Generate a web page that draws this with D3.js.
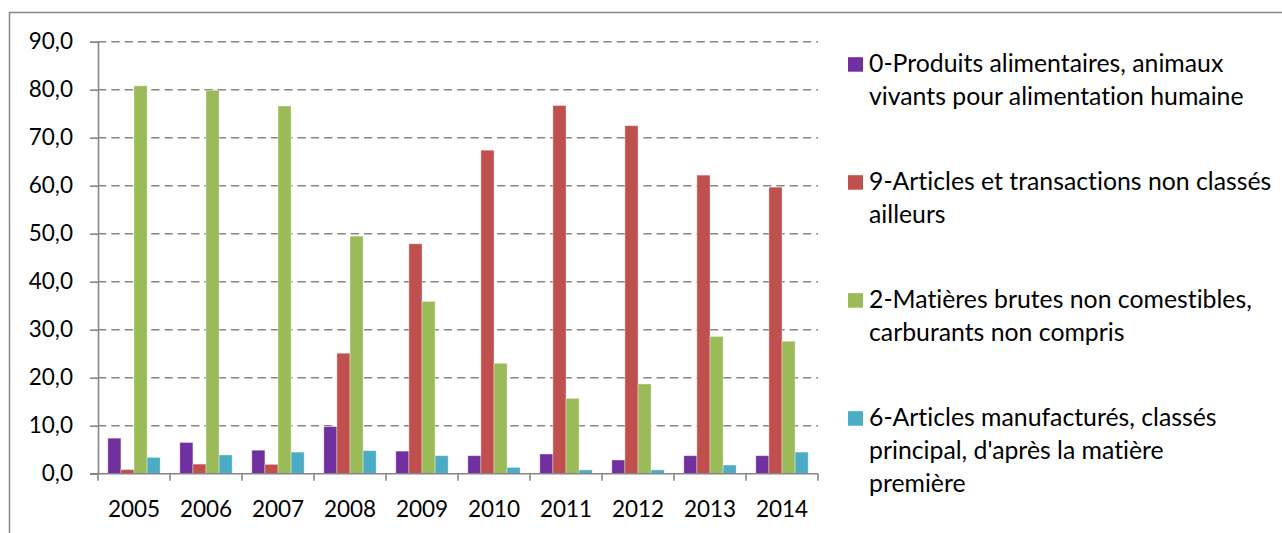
<!DOCTYPE html>
<html>
<head>
<meta charset="utf-8">
<script src="https://cdn.jsdelivr.net/npm/d3@7"></script>
<style>
  html, body { margin: 0; padding: 0; background: #fff; }
  svg { display: block; }
  text { font-family: Lato, "Open Sans", sans-serif; fill: #000; font-variant-ligatures: none; }
</style>
</head>
<body>
<svg id="chart" width="1282" height="533"></svg>
<script>
const years = ["2005","2006","2007","2008","2009","2010","2011","2012","2013","2014"];
const seriesNames = [
  "0-Produits alimentaires, animaux vivants pour alimentation humaine",
  "9-Articles et transactions non classés ailleurs",
  "2-Matières brutes non comestibles, carburants non compris",
  "6-Articles manufacturés, classés principal, d'après la matière première"
];
const legendLines = [
  ["0-Produits alimentaires, animaux", "vivants pour alimentation humaine"],
  ["9-Articles et transactions non classés", "ailleurs"],
  ["2-Matières brutes non comestibles,", "carburants non compris"],
  ["6-Articles manufacturés, classés", "principal, d'après la matière", "première"]
];
const produitsAlimentaires = [7.4, 6.5, 4.9, 9.8, 4.7, 3.75, 4.1, 2.85, 3.75, 3.75];
const articlesNonClasses   = [0.85, 2.0, 1.95, 25.1, 47.9, 67.4, 76.7, 72.5, 62.2, 59.7];
const matieresBrutes       = [80.8, 79.9, 76.6, 49.5, 35.9, 23.0, 15.7, 18.7, 28.6, 27.6];
const articlesManufactures = [3.4, 3.9, 4.5, 4.8, 3.75, 1.3, 0.8, 0.8, 1.8, 4.5];
const yTicks = [0, 10, 20, 30, 40, 50, 60, 70, 80, 90];
const colors = ["#7030A0", "#C0504D", "#9BBB59", "#4BACC6"];

const seriesValues = [produitsAlimentaires, articlesNonClasses, matieresBrutes, articlesManufactures];

const svg = d3.select("#chart");
const axisColor = "#868686";

// outer chart border
svg.append("rect")
  .attr("x", 9.5).attr("y", 12.5)
  .attr("width", 1300).attr("height", 600)
  .attr("fill", "none").attr("stroke", axisColor).attr("stroke-width", 1.5);

const plot = { left: 98, right: 818, top: 41.7, bottom: 473.7 };

const x0 = d3.scaleBand().domain(years).range([plot.left, plot.right]).padding(0);
const x1 = d3.scaleBand().domain(d3.range(seriesValues.length))
  .range([0, x0.bandwidth()]).paddingInner(0).paddingOuter(0.75);
const y = d3.scaleLinear().domain([0, 90]).range([plot.bottom, plot.top]);

// gridlines
svg.append("g").selectAll("line")
  .data(yTicks.filter(d => d > 0))
  .join("line")
  .attr("x1", plot.left).attr("x2", plot.right)
  .attr("y1", d => y(d)).attr("y2", d => y(d))
  .attr("stroke", axisColor).attr("stroke-width", 1.6)
  .attr("stroke-dasharray", "8.3,5");

// bars
const groups = svg.append("g").selectAll("g")
  .data(years)
  .join("g")
  .attr("transform", d => `translate(${x0(d)},0)`);

groups.selectAll("rect")
  .data((d, i) => seriesValues.map((s, k) => ({ k, v: s[i] })))
  .join("rect")
  .attr("x", d => x1(d.k))
  .attr("width", x1.bandwidth())
  .attr("y", d => y(d.v))
  .attr("height", d => y(0) - y(d.v))
  .attr("fill", d => colors[d.k])
  .attr("stroke", "rgba(255,255,255,0.45)")
  .attr("stroke-width", 0.8);

// y axis
const yAxis = d3.axisLeft(y).tickValues(yTicks).tickSize(8).tickPadding(17)
  .tickFormat(d => d3.format(".1f")(d).replace(".", ","));
const gy = svg.append("g").attr("transform", `translate(${plot.left},0)`).call(yAxis);
gy.select(".domain").attr("stroke", axisColor).attr("stroke-width", 1.6);
gy.selectAll(".tick line").attr("stroke", axisColor).attr("stroke-width", 1.6);
gy.selectAll(".tick text").attr("font-size", 22.5).attr("font-family", "Lato, sans-serif").attr("fill", "#000");

// x axis
const xTickScale = d3.scaleLinear().domain([0, years.length]).range([plot.left, plot.right]);
const gx = svg.append("g");
gx.append("line")
  .attr("x1", plot.left - 8).attr("x2", plot.right)
  .attr("y1", plot.bottom).attr("y2", plot.bottom)
  .attr("stroke", axisColor).attr("stroke-width", 1.6);
gx.selectAll("line.tk")
  .data(d3.range(years.length + 1))
  .join("line").attr("class", "tk")
  .attr("x1", d => xTickScale(d)).attr("x2", d => xTickScale(d))
  .attr("y1", plot.bottom).attr("y2", plot.bottom + 7)
  .attr("stroke", axisColor).attr("stroke-width", 1.6);
gx.selectAll("text")
  .data(years)
  .join("text")
  .attr("x", d => x0(d) + x0.bandwidth() / 2)
  .attr("y", 516.5)
  .attr("text-anchor", "middle")
  .attr("font-size", 22.5)
  .text(d => d);

// legend
const legend = svg.append("g");
const legendTop = 71.7, legendStep = 118, lineH = 33;
legendLines.forEach((lines, i) => {
  const by = legendTop + i * legendStep;
  legend.append("rect")
    .attr("x", 848).attr("y", by - 14.5)
    .attr("width", 15).attr("height", 14.5)
    .attr("fill", colors[i]);
  const t = legend.append("text").attr("x", 869).attr("y", by).attr("font-size", 24.8);
  lines.forEach((ln, j) => {
    t.append("tspan").attr("x", 869).attr("y", by + j * lineH).text(ln);
  });
});
</script>
</body>
</html>
